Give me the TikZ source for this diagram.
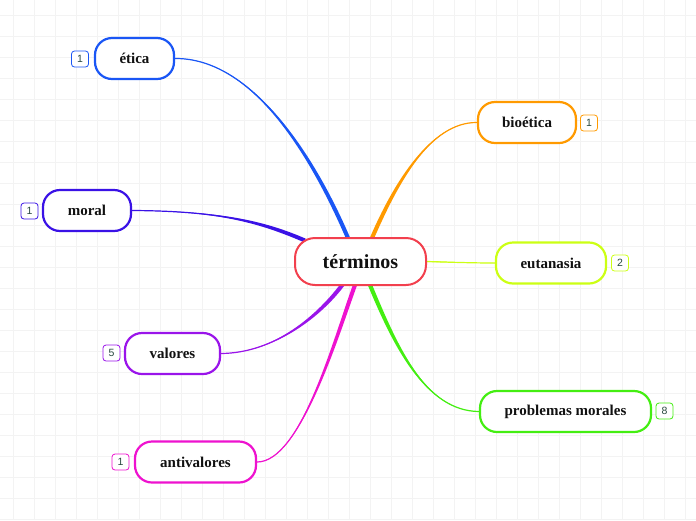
\documentclass[tikz,border=0pt]{standalone}
\usepackage{fontspec}
\setmainfont{Liberation Serif}
\setsansfont{Liberation Sans}
\usetikzlibrary{calc,backgrounds}
\definecolor{cterm}{HTML}{F2404E}
\definecolor{cetica}{HTML}{1A56F5}
\definecolor{cmoral}{HTML}{3A12E6}
\definecolor{cvalores}{HTML}{9A14EA}
\definecolor{canti}{HTML}{EE12CF}
\definecolor{cbio}{HTML}{FF9A00}
\definecolor{ceuta}{HTML}{CCFF14}
\definecolor{cprob}{HTML}{44EE12}
\definecolor{gridc}{HTML}{F3F3F3}
\definecolor{badgetext}{HTML}{2A4A40}
\definecolor{labeltext}{HTML}{111111}
\tikzset{
  topic/.style={draw=#1, line width=2.2pt, rounded corners=17pt, fill=white,
    minimum height=41pt, inner sep=0pt, text=labeltext,
    font=\bfseries\fontsize{15}{18}\selectfont},
  central/.style={draw=cterm, line width=2pt, rounded corners=20pt, fill=white,
    minimum height=47pt, minimum width=131pt, inner sep=0pt, text=labeltext,
    font=\bfseries\fontsize{20}{24}\selectfont},
  badge/.style={draw=#1, line width=0.8pt, rounded corners=3pt, fill=white,
    minimum width=17pt, minimum height=16pt, inner sep=0pt, text=badgetext,
    font=\sffamily\fontsize{10.5}{12}\selectfont},
}
\newcommand\branch[6]{%
  \fill[#1] (#2) .. controls (#3) and ($(#4)+(#6)$) .. ($(#5)+(#6)$) -- ($(#5)-(#6)$)
     .. controls ($(#4)-(#6)$) and (#3) .. (#2) -- cycle;
  \draw[#1, line width=1.2pt] (#2) .. controls (#3) and (#4) .. (#5);
}
\begin{document}
\begin{tikzpicture}[x=1pt,y=-1pt]
\useasboundingbox (0,0) rectangle (696,520);
% nodes
\node[central] (term) at (360.5,261.5) {términos};
\node[topic=cetica, minimum width=79pt] (et) at (134.5,58.5) {ética};
\node[topic=cmoral, minimum width=88pt] (mo) at (87,210.5) {moral};
\node[topic=cvalores, minimum width=95pt] (va) at (172.5,353.5) {valores};
\node[topic=canti, minimum width=121pt] (an) at (195.5,462) {antivalores};
\node[topic=cbio, minimum width=98pt] (bi) at (527,122.5) {bioética};
\node[topic=ceuta, minimum width=110pt] (eu) at (551,263) {eutanasia};
\node[topic=cprob, minimum width=171pt] (pm) at (565.5,411.5) {problemas morales};
% badges
\node[badge=cetica] (bet) at (80,59) {1};
\node[badge=cmoral] (bmo) at (29.5,211) {1};
\node[badge=cvalores] (bva) at (111.5,353) {5};
\node[badge=canti] (ban) at (120.5,462) {1};
\node[badge=cbio] (bbi) at (589,123) {1};
\node[badge=ceuta] (beu) at (620,263) {2};
\node[badge=cprob] (bpm) at (664.5,411) {8};
\begin{scope}[on background layer]
  \foreach \gx in {13,34,...,696} \draw[gridc, line width=0.6pt] (\gx,0) -- (\gx,520);
  \foreach \gy in {15,36,...,520} \draw[gridc, line width=0.6pt] (0,\gy) -- (696,\gy);
  \branch{cetica}{et.east}{250,58}{310,150}{$(term.center)+(-12.5,-23.5)$}{1.9,-0.8}
  \branch{cmoral}{mo.east}{220,211}{262,222}{$(term.center)+(-55.5,-21)$}{0.6,-1.9}
  \branch{cvalores}{va.east}{275,353}{320,315}{$(term.center)+(-17.5,22.5)$}{1.6,1.3}
  \branch{canti}{an.east}{300,462}{335,340}{$(term.center)+(-5.5,23.5)$}{2,0.5}
  \branch{cbio}{bi.west}{430,122}{395,185}{$(term.center)+(11.5,-23.5)$}{1.9,0.8}
  \branch{ceuta}{eu.west}{470,263}{445,262}{term.east}{0,0.5}
  \branch{cprob}{pm.west}{425,411}{395,345}{$(term.center)+(9.5,23.5)$}{1.9,-0.8}
\end{scope}
\end{tikzpicture}
\end{document}
